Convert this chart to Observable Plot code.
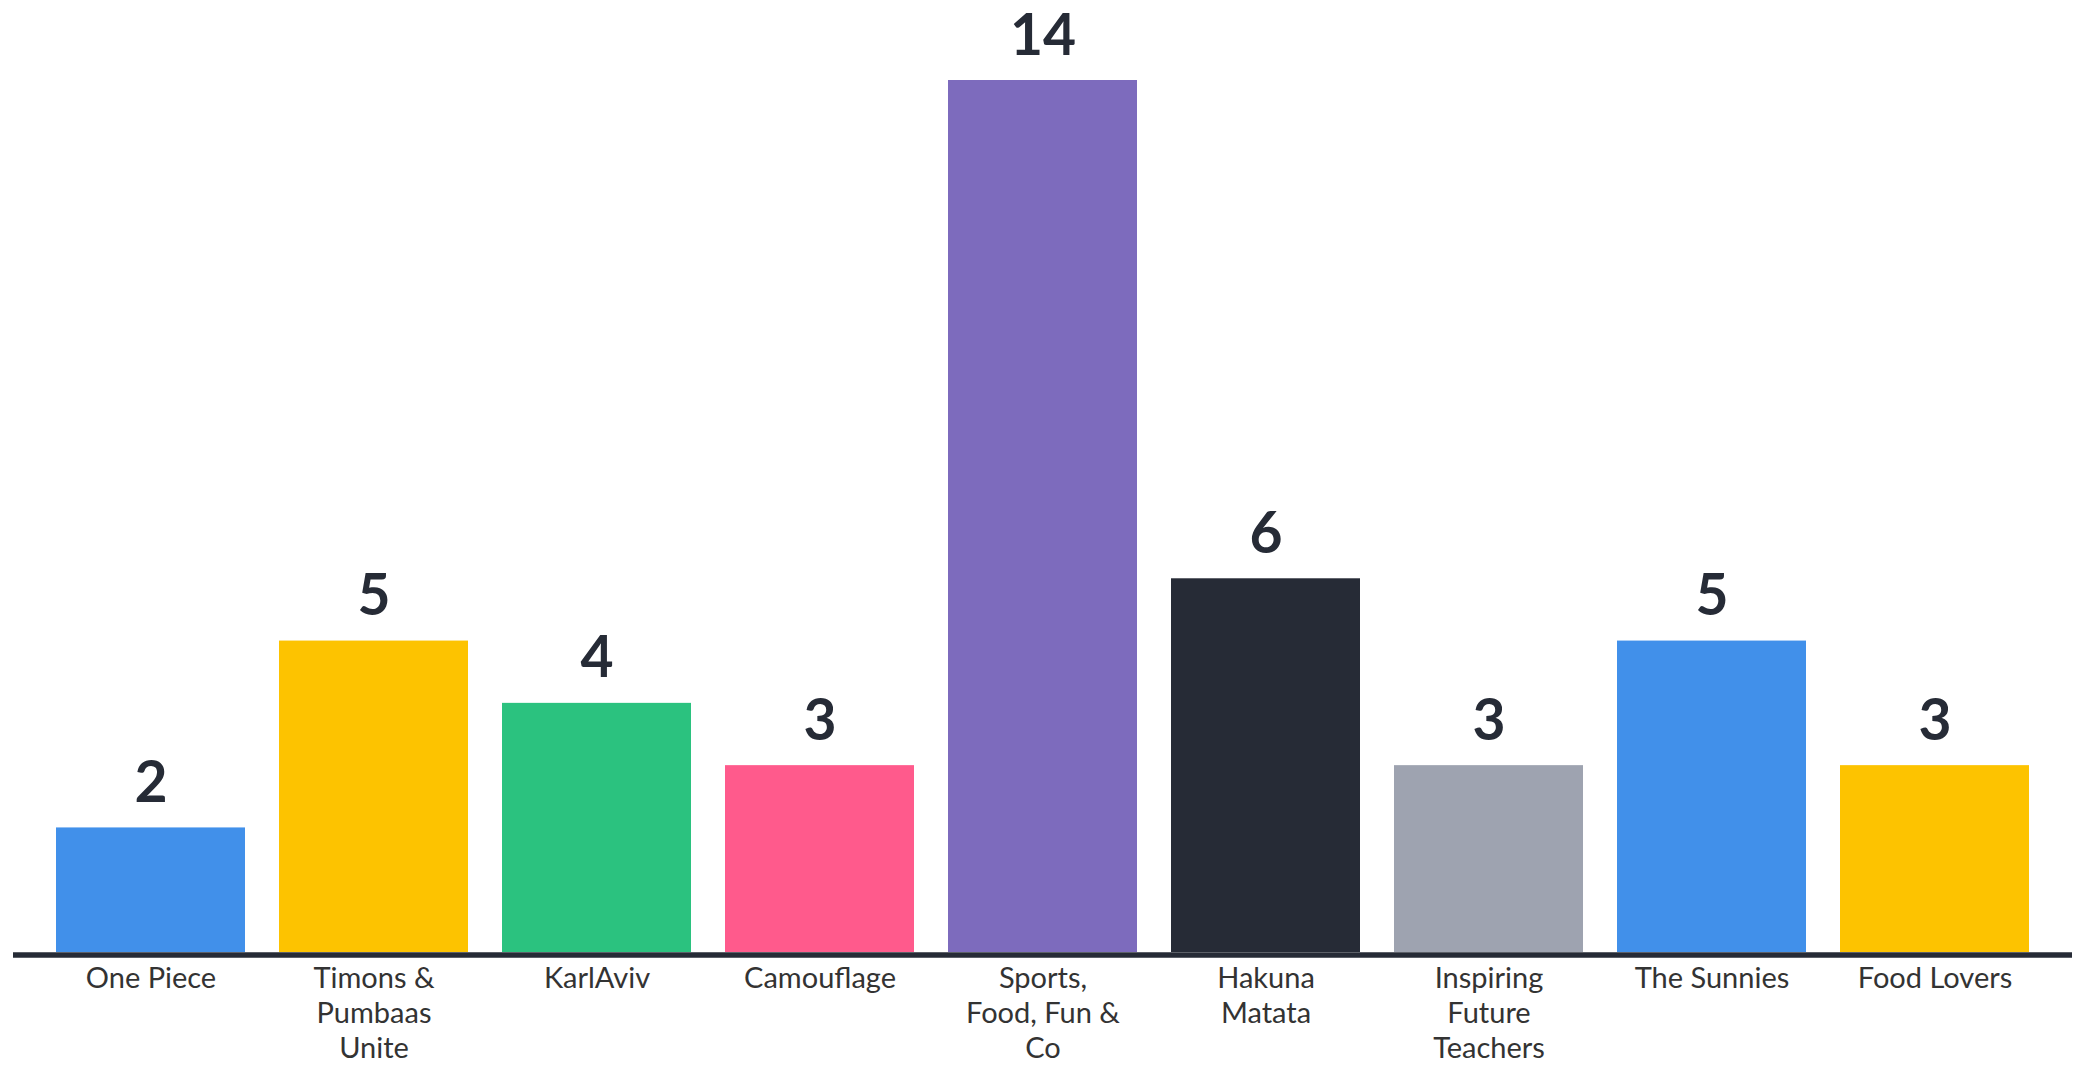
<!DOCTYPE html>
<html>
<head>
<meta charset="utf-8">
<script src="https://cdn.jsdelivr.net/npm/d3@7"></script>
<script src="https://cdn.jsdelivr.net/npm/@observablehq/plot@0.6"></script>
<style>
  html, body { margin: 0; padding: 0; background: #ffffff; }
  #chart svg { display: block; }
</style>
</head>
<body>
<div id="chart"></div>
<script>
const teams = ["One Piece", "Timons & Pumbaas Unite", "KarlAviv", "Camouflage", "Sports, Food, Fun & Co", "Hakuna Matata", "Inspiring Future Teachers", "The Sunnies", "Food Lovers"];
const tickLabels = ["One Piece", "Timons &\nPumbaas\nUnite", "KarlAviv", "Camouflage", "Sports,\nFood, Fun &\nCo", "Hakuna\nMatata", "Inspiring\nFuture\nTeachers", "The Sunnies", "Food Lovers"];
const counts = [2, 5, 4, 3, 14, 6, 3, 5, 3];
const barColors = ["#4190ea", "#fdc300", "#2bc27f", "#ff5a8c", "#7d6bbd", "#262b36", "#9ea3b0", "#4190ea", "#fdc300"];

const data = teams.map((t, i) => ({team: t, count: counts[i], label: tickLabels[i]}));
const labelOf = new Map(teams.map((t, i) => [t, tickLabels[i]]));

const chart = Plot.plot({
  width: 2085,
  height: 1067,
  marginLeft: 35,
  marginRight: 35,
  marginTop: 80,
  marginBottom: 115,
  style: {fontFamily: "Lato, sans-serif", background: "#ffffff"},
  x: {domain: teams, paddingInner: 0.153, paddingOuter: 0.0765, label: null},
  y: {domain: [0, 14], axis: null, label: null},
  color: {domain: teams, range: barColors},
  marks: [
    Plot.barY(data, {x: "team", y: "count", fill: "team"}),
    Plot.ruleY([0], {stroke: "#262b36", strokeWidth: 5.5, insetLeft: -22, insetRight: -22, dy: 2.5}),
    Plot.text(data, {x: "team", y: "count", text: d => String(d.count), lineAnchor: "bottom", dy: -26, fontSize: 57, fontWeight: 700, fill: "#262b36"}),
    Plot.axisX({
      tickSize: 0,
      tickPadding: 11,
      fontSize: 29,
      lineHeight: 1.2,
      fill: "#333333",
      tickFormat: t => labelOf.get(t),
      label: null
    })
  ]
});
document.getElementById("chart").append(chart);
</script>
</body>
</html>
